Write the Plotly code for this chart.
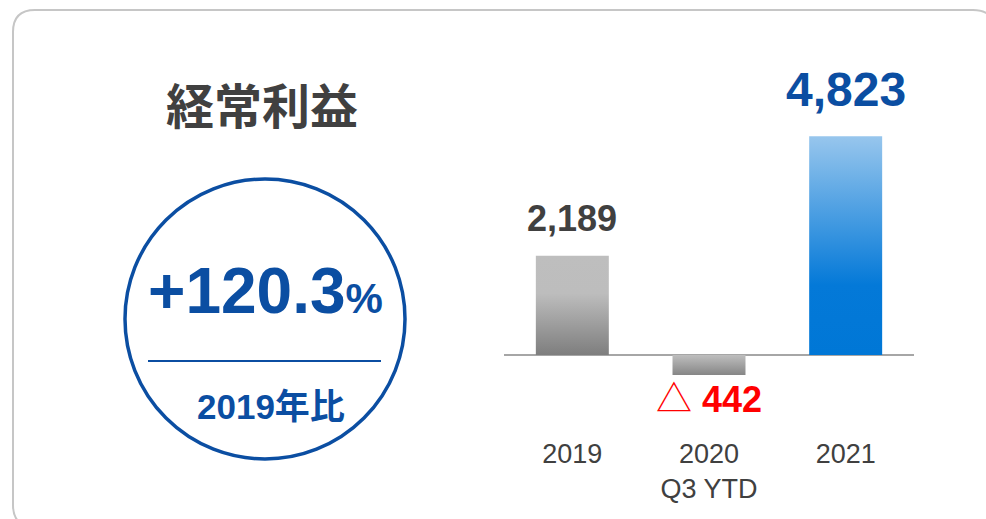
import plotly.graph_objects as go

# ---- data ----
categories = ["2019", "2020<br>Q3 YTD", "2021"]
values = [2189, -442, 4823]
value_labels = ["<b>2,189</b>", "△ <b>442</b>", "<b>4,823</b>"]
title_text = "経常利益"
growth_text = "<b>+120.3</b><span style='font-size:42px'><b>%</b></span>"
growth_caption = "<b>2019年比</b>"

# ---- styles ----
W, H = 986, 519
label_colors = ["#404040", "#FF0000", "#0B4EA2"]
label_sizes = [36, 36, 48]
label_shifts = [37, -25, 47]
gradients = [
    [[0, "#7E7E7E"], [0.62, "#BDBDBD"], [1, "#BEBEBE"]],
    [[0, "#868686"], [1, "#BEBEBE"]],
    [[0, "#0077D6"], [0.32, "#0479D8"], [1, "#97C6ED"]],
]
half_w = 0.267
BLUE = "#0B4EA2"
SANS = "Liberation Sans, Arial, Noto Sans CJK JP"
CJK = "Noto Sans CJK JP, Liberation Sans"


def px(x):
    return x / W


def py(y):
    return 1 - y / H


fig = go.Figure()

for i, (v, grad) in enumerate(zip(values, gradients)):
    fig.add_trace(go.Scatter(
        x=[i - half_w, i + half_w, i + half_w, i - half_w, i - half_w],
        y=[0, 0, v, v, 0],
        mode="lines",
        line=dict(width=0),
        fill="toself",
        fillgradient=dict(type="vertical", colorscale=grad),
        hoverinfo="skip",
        showlegend=False,
    ))

annotations = []
for i, (v, t) in enumerate(zip(values, value_labels)):
    annotations.append(dict(
        x=i, y=v, xref="x", yref="y", text=t, showarrow=False,
        yanchor="middle", yshift=label_shifts[i],
        font=dict(family=SANS if i != 1 else "Liberation Sans, Noto Sans CJK JP",
                  size=label_sizes[i], color=label_colors[i]),
    ))

annotations.append(dict(
    x=px(262), y=py(103), xref="paper", yref="paper", text=title_text,
    showarrow=False, xanchor="center", yanchor="middle",
    font=dict(family=CJK, size=48, color="#404040", weight=700),
))
annotations.append(dict(
    x=px(265), y=py(291), xref="paper", yref="paper", text=growth_text,
    showarrow=False, xanchor="center", yanchor="middle",
    font=dict(family=SANS, size=64, color=BLUE),
))
annotations.append(dict(
    x=px(271), y=py(406), xref="paper", yref="paper", text=growth_caption,
    showarrow=False, xanchor="center", yanchor="middle",
    font=dict(family="Liberation Sans, Noto Sans CJK JP", size=35, color=BLUE),
))

# rounded card border
x0, x1, y0, y1, r = 13, 995, 10, 527, 22
path = (
    f"M {px(x0 + r)},{py(y0)} L {px(x1 - r)},{py(y0)} "
    f"Q {px(x1)},{py(y0)} {px(x1)},{py(y0 + r)} "
    f"L {px(x1)},{py(y1 - r)} Q {px(x1)},{py(y1)} {px(x1 - r)},{py(y1)} "
    f"L {px(x0 + r)},{py(y1)} Q {px(x0)},{py(y1)} {px(x0)},{py(y1 - r)} "
    f"L {px(x0)},{py(y0 + r)} Q {px(x0)},{py(y0)} {px(x0 + r)},{py(y0)} Z"
)
shapes = [
    dict(type="path", path=path, xref="paper", yref="paper",
         line=dict(color="#C6C6C6", width=2), layer="below"),
    dict(type="circle", xref="paper", yref="paper",
         x0=px(125), x1=px(405), y0=py(459), y1=py(179),
         line=dict(color=BLUE, width=3.5)),
    dict(type="line", xref="paper", yref="paper",
         x0=px(148), x1=px(381), y0=py(361), y1=py(361),
         line=dict(color=BLUE, width=2)),
]

y_range = [-1700, 6000]
fig.update_layout(
    width=W, height=H, autosize=False,
    margin=dict(l=0, r=0, t=0, b=0),
    paper_bgcolor="white", plot_bgcolor="rgba(0,0,0,0)",
    showlegend=False,
    annotations=annotations,
    shapes=shapes,
    xaxis=dict(
        domain=[px(504), px(914)], range=[-0.5, 2.5],
        tickvals=[0, 1, 2], ticktext=categories,
        showgrid=False, zeroline=False, showline=False, ticks="",
        tickfont=dict(family=SANS, size=27, color="#404040"),
        ticklabelstandoff=3,
        automargin=False, fixedrange=True,
    ),
    yaxis=dict(
        domain=[py(432), py(83)], range=y_range,
        showgrid=False, showticklabels=False, ticks="",
        zeroline=True, zerolinecolor="#A6A6A6", zerolinewidth=2,
        automargin=False, fixedrange=True,
    ),
)

fig.write_html(
    "out.html",
    config={"displayModeBar": False},
    post_script="document.body.style.margin='0';document.body.style.overflow='hidden';",
)
